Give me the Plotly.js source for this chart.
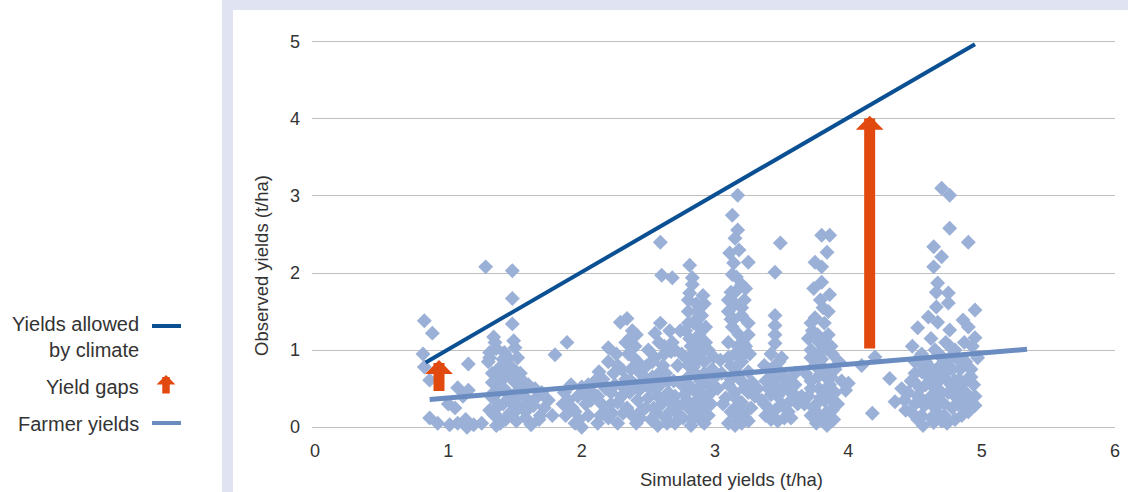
<!DOCTYPE html>
<html>
<head>
<meta charset="utf-8">
<script src="https://cdn.plot.ly/plotly-3.0.1.min.js"></script>
<style>html,body{margin:0;padding:0;background:#fff;}#chart{width:1128px;height:492px;}</style>
</head>
<body>
<div id="chart"></div>
<script>
// ---------- data ----------
var xTicks = [0, 1, 2, 3, 4, 5, 6];
var yTicks = [0, 1, 2, 3, 4, 5];
var xTitle = "Simulated yields (t/ha)";
var yTitle = "Observed yields (t/ha)";
var legendLabels = ["Yields allowed<br>by climate", "Yield gaps", "Farmer yields"];

// observed vs simulated points, grouped by cluster
var c1x = [0.82,0.88,0.81,0.82,0.86,0.86,0.92,1.01,1.05,1.07,1.15,1.11,1.15,1.14,1.25,1.19,1.00,1.13,1.07];
var c1y = [1.38,1.22,0.95,0.78,0.61,0.12,0.05,0.03,0.25,0.51,0.48,0.40,0.82,0.00,0.05,0.03,0.30,0.10,0.05];
var c2x = [1.28,1.48,1.48,1.48,1.34,1.35,1.31,1.42,1.50,1.52,1.48,1.35,1.42,1.33,1.50,1.54,1.37,1.45,1.33,1.50,1.55,1.50,1.58,1.62,1.58,1.62,1.66,1.72,1.78,1.80,1.30,1.40,1.45,1.38,1.43,1.36,1.68,1.70,1.75,1.60,1.65,1.34,1.39,
           1.31,1.36,1.41,1.46,1.51,1.33,1.38,1.43,1.48,1.53,1.31,1.36,1.41,1.46,1.51,1.56,1.34,1.39,1.44,1.49,1.54,1.59,1.64,1.69];
var c2y = [2.08,2.03,1.67,1.34,1.17,1.10,0.97,0.97,1.03,0.90,0.77,0.71,0.64,0.58,0.58,0.52,0.45,0.42,0.38,0.32,0.25,0.20,0.12,0.03,0.38,0.32,0.38,0.25,0.15,0.94,0.85,0.80,0.90,0.28,0.10,0.02,0.10,0.45,0.35,0.55,0.50,0.16,0.05,
           0.90,1.02,0.88,0.66,0.45,0.70,0.55,0.48,0.30,0.42,0.22,0.15,0.30,0.18,0.08,0.60,0.45,0.65,0.78,1.12,0.70,0.22,0.28,0.15];
var c3x = [1.89,1.87,1.90,1.93,1.88,1.95,1.97,2.00,2.03,2.05,2.08,2.10,2.12,1.92,2.00,2.15,2.18,2.13,
           1.86,1.95,2.02,2.07,2.12,2.17,1.98,2.05,2.14];
var c3y = [1.10,0.45,0.35,0.25,0.15,0.05,0.40,0.52,0.30,0.15,0.45,0.60,0.05,0.55,0.00,0.30,0.50,0.72,
           0.30,0.20,0.42,0.35,0.40,0.20,0.10,0.55,0.15];
var c4x = [2.20,2.27,2.29,2.34,2.38,2.36,2.40,2.35,2.42,2.37,2.33,2.40,2.36,2.42,2.34,2.38,2.41,2.30,2.25,2.22,2.20,2.27,2.45,2.47,2.24,2.31,2.16,2.44,
           2.22,2.27,2.32,2.37,2.43,2.23,2.30,2.39,2.44,2.26,2.33,2.41,2.20];
var c4y = [1.03,0.80,1.36,1.41,1.25,1.15,1.05,0.95,0.85,0.75,0.62,0.55,0.45,0.35,0.25,0.15,0.05,0.40,0.55,0.30,0.12,0.05,0.22,0.65,0.70,0.18,0.62,0.12,
           0.45,0.32,0.50,0.60,0.48,0.18,0.75,0.90,0.70,0.95,1.10,1.20,0.85];
var c5x = [2.59,2.60,2.68,2.59,2.55,2.50,2.53,2.58,2.62,2.65,2.55,2.50,2.60,2.66,2.52,2.57,2.70,2.72,2.68,2.74,2.63,2.48,2.70,2.75,2.46,2.56,2.65,2.72,
           2.49,2.53,2.57,2.61,2.65,2.69,2.73,2.51,2.55,2.59,2.63,2.67,2.71,2.75,2.54,2.62,2.70,2.66,2.58,2.64];
var c5y = [2.40,1.97,1.94,1.35,1.22,1.00,0.85,0.70,0.95,0.60,0.50,0.38,0.30,0.20,0.10,0.02,0.40,0.80,1.10,1.25,0.12,0.25,0.05,0.55,0.60,0.18,0.45,0.25,
           0.80,0.65,0.40,0.80,0.35,0.60,0.15,0.50,0.90,0.55,0.70,0.98,0.30,0.95,0.25,1.05,1.00,1.25,1.10,0.05];
var c6x = [2.81,2.83,2.81,2.91,2.86,2.80,2.90,2.84,2.78,2.88,2.93,2.82,2.87,2.78,2.92,2.84,2.99,3.04,2.80,2.89,2.95,2.83,2.77,2.88,2.93,2.80,2.85,2.90,2.82,2.95,2.97,2.76,2.87,2.93,2.81,2.85,2.90,2.79,3.00,2.95,
           2.80,2.86,2.92,2.80,2.86,2.92,2.80,2.86,2.92,2.80,2.86,2.92,2.80,2.86,2.92,2.83,2.89,2.83,2.89,2.83,2.89,2.97,3.02,2.98];
var c6y = [2.10,1.94,1.74,1.71,1.60,1.50,1.45,1.35,1.25,1.20,1.10,1.05,0.95,0.90,0.85,0.78,0.91,0.87,0.65,0.60,0.55,0.50,0.42,0.38,0.30,0.25,0.15,0.08,0.02,0.15,0.45,0.12,1.50,1.30,1.15,0.70,0.20,0.35,0.65,1.00,
           1.65,1.40,1.60,1.35,1.05,1.00,0.80,0.85,0.70,0.55,0.45,0.40,0.30,0.28,0.05,1.85,1.28,0.95,0.65,0.10,0.52,0.30,0.50,0.75];
var c7x = [3.17,3.13,3.17,3.15,3.11,3.25,3.14,3.16,3.20,3.12,3.22,3.15,3.10,3.20,3.25,3.13,3.18,3.10,3.23,3.15,3.20,3.12,3.25,3.17,3.10,3.22,3.15,3.08,3.20,3.27,3.12,3.18,3.15,3.23,3.06,3.30,3.05,3.28,3.10,3.26,3.14,3.21,
           3.10,3.15,3.20,3.25,3.12,3.17,3.22,3.10,3.15,3.20,3.25,3.12,3.17,3.22,3.10,3.15,3.20,3.25,3.13,3.18,3.23,3.16];
var c7y = [3.01,2.75,2.56,2.45,2.26,2.14,2.13,1.95,1.85,1.75,1.65,1.60,1.50,1.45,1.35,1.30,1.20,1.10,1.05,0.95,0.85,0.80,0.72,0.65,0.55,0.50,0.45,0.38,0.32,0.25,0.20,0.10,0.02,0.12,0.30,0.40,0.70,0.58,0.90,0.95,1.40,1.10,
           1.65,1.75,1.55,1.20,1.40,1.05,0.95,0.90,0.75,0.60,0.45,0.62,0.35,0.20,0.05,0.25,0.05,0.08,1.98,2.30,1.80,0.15];
var c8x = [3.49,3.45,3.45,3.45,3.45,3.45,3.42,3.48,3.40,3.50,3.38,3.45,3.52,3.42,3.35,3.50,3.45,3.38,3.55,3.47,3.58,3.60,3.32,3.55,3.62,3.40,
           3.37,3.42,3.47,3.52,3.57,3.37,3.42,3.47,3.52,3.57,3.40,3.50,3.45,3.55,3.60,3.65];
var c8y = [2.39,2.01,1.45,1.32,1.20,1.09,0.95,0.85,0.75,0.70,0.60,0.55,0.50,0.42,0.35,0.30,0.22,0.15,0.20,0.08,0.45,0.70,0.50,0.60,0.30,0.25,
           0.80,0.65,0.40,0.62,0.35,0.30,0.10,0.68,0.12,0.12,0.50,0.90,0.80,0.48,0.55,0.40];
var c9x = [3.80,3.86,3.84,3.75,3.80,3.80,3.74,3.79,3.85,3.75,3.82,3.73,3.85,3.78,3.72,3.88,3.80,3.75,3.90,3.83,3.72,3.78,3.90,3.70,3.82,3.75,3.88,3.72,3.80,3.84,3.67,3.68,3.93,3.77,3.86,3.95,3.70,3.83,
           3.72,3.77,3.82,3.87,3.72,3.77,3.82,3.87,3.72,3.77,3.82,3.87,3.74,3.79,3.84,3.89,3.76,3.81,3.86,3.92];
var c9y = [2.49,2.49,2.27,2.14,2.08,1.88,1.80,1.65,1.50,1.42,1.35,1.25,1.20,1.10,1.00,0.95,0.88,0.80,0.75,0.65,0.60,0.50,0.45,0.40,0.35,0.28,0.22,0.15,0.10,0.02,0.30,0.70,0.85,0.18,0.55,0.60,1.15,1.02,
           1.35,1.20,1.15,1.05,0.90,0.95,0.75,0.65,0.50,0.65,0.45,0.35,0.25,0.38,0.20,0.10,0.05,1.55,1.72,0.30];
var c10x = [4.00,3.98,4.10,4.18,4.20];
var c10y = [0.57,0.48,0.80,0.18,0.91];
var c11x = [4.70,4.76,4.76,4.90,4.64,4.70,4.64,4.67,4.66,4.75,4.75,4.66,4.95,4.60,4.67,4.86,4.52,4.76,4.90,4.95,4.73,
            4.31,4.35,4.43,4.64,4.45,4.50,4.55,4.58,4.62,4.60,4.55,4.50,4.48,4.65,4.68,4.70,4.72,4.75,4.78,4.80,4.82,4.85,4.88,4.90,4.92,4.95,4.97,4.52,4.58,4.62,4.68,4.72,4.80,4.85,4.93,4.40,4.47,4.56,4.66,4.74,4.87,4.83,4.60,4.78,4.95,4.42,4.53,
            4.47,4.52,4.57,4.62,4.67,4.72,4.77,4.82,4.87,4.92,4.49,4.54,4.59,4.64,4.69,4.74,4.79,4.84,4.89,4.94,4.50,4.56,4.62,4.68,4.74,4.80,4.86,4.92,4.55,4.65,4.70,4.76,4.82,4.88,4.60,4.70,4.80];
var c11y = [3.10,3.01,2.58,2.40,2.34,2.21,2.08,1.87,1.75,1.74,1.61,1.56,1.52,1.43,1.36,1.39,1.29,1.26,1.30,1.16,1.10,
            0.63,0.33,0.22,0.06,0.45,0.30,0.15,0.55,0.40,0.80,0.95,0.70,1.05,0.25,0.60,0.90,0.15,0.45,0.75,1.00,0.30,0.55,0.85,0.20,0.65,0.40,0.90,0.10,0.85,1.15,0.35,0.70,0.10,0.15,1.05,0.50,0.60,0.02,0.50,0.05,1.10,0.62,0.65,0.25,0.28,0.35,0.85,
            0.20,0.40,0.28,0.55,0.18,0.30,0.55,0.45,0.35,0.75,0.60,0.50,0.70,0.72,0.80,0.62,0.95,0.75,0.62,0.55,0.85,0.35,0.12,0.95,0.85,0.40,0.25,0.30,0.72,1.00,0.08,1.05,0.88,0.45,0.35,0.45,0.60];

// trend lines
var climateX = [0.83, 4.95];
var climateY = [0.84, 4.97];
var farmerX = [0.86, 5.34];
var farmerY = [0.36, 1.01];

// yield gap arrows
var gapX = [0.93, 4.16];
var gapFrom = [0.45, 1.00];
var gapTo = [0.87, 4.04];

// ---------- build ----------
var allX = [].concat(c1x,c2x,c3x,c4x,c5x,c6x,c7x,c8x,c9x,c10x,c11x);
var allY = [].concat(c1y,c2y,c3y,c4y,c5y,c6y,c7y,c8y,c9y,c10y,c11y);

var W = 1128, H = 492;
var M = {l: 312, r: 13, t: 38, b: 61};
var pw = W - M.l - M.r, ph = H - M.t - M.b;
function px(x) { return (x - M.l) / pw; }
function py(y) { return (H - M.b - y) / ph; }

var FONT = "Liberation Sans, Arial, sans-serif";
var TXT = "#333333";
var DARK = "#0b5092";
var LIGHT = "#6b8cc0";
var PTS = "#9bb0d7";
var ORANGE = "#e2490f";

var traces = [
  {type: "scatter", mode: "markers", x: allX, y: allY, cliponaxis: false, hoverinfo: "x+y",
   marker: {symbol: "diamond", size: 11.5, color: PTS, line: {width: 0}}},
  {type: "scatter", mode: "lines", x: farmerX, y: farmerY, line: {color: LIGHT, width: 5}, cliponaxis: false},
  {type: "scatter", mode: "lines", x: climateX, y: climateY, line: {color: DARK, width: 4}, cliponaxis: false}
];

var annotations = [];
for (var i = 0; i < gapX.length; i++) {
  annotations.push({xref: "x", yref: "y", axref: "x", ayref: "y",
    x: gapX[i], y: gapTo[i], ax: gapX[i], ay: gapFrom[i], text: "",
    showarrow: true, arrowhead: 1, arrowwidth: 11, arrowsize: 0.42, arrowcolor: ORANGE, standoff: 0});
}
// axis titles
annotations.push({xref: "paper", yref: "paper", x: px(731), y: py(479), text: xTitle, showarrow: false,
  xanchor: "center", yanchor: "middle", font: {family: FONT, size: 18.5, color: TXT}});
annotations.push({xref: "paper", yref: "paper", x: px(261), y: py(266), text: yTitle, showarrow: false,
  textangle: -90, xanchor: "center", yanchor: "middle", font: {family: FONT, size: 18.5, color: TXT}});
// legend texts
var legY = [337, 387, 424];
for (var j = 0; j < legendLabels.length; j++) {
  annotations.push({xref: "paper", yref: "paper", x: px(141), y: py(legY[j]), text: legendLabels[j],
    showarrow: false, xanchor: "right", yanchor: "middle", align: "right",
    font: {family: FONT, size: 20, color: TXT}});
}
// legend arrow
annotations.push({xref: "paper", yref: "paper", x: px(166), y: py(375), ax: 0, ay: 20, text: "",
  showarrow: true, arrowhead: 1, arrowwidth: 7.5, arrowsize: 0.42, arrowcolor: ORANGE, standoff: 0});

var shapes = [
  {type: "rect", xref: "paper", yref: "paper", x0: px(222), x1: px(1128), y0: py(0), y1: py(492),
   fillcolor: "#e0e4f2", line: {width: 0}, layer: "below"},
  {type: "rect", xref: "paper", yref: "paper", x0: px(233), x1: px(1128), y0: py(10), y1: py(492),
   fillcolor: "#ffffff", line: {width: 0}, layer: "below"},
  {type: "line", xref: "paper", yref: "paper", x0: px(152), x1: px(181), y0: py(326), y1: py(326),
   line: {color: DARK, width: 4}},
  {type: "line", xref: "paper", yref: "paper", x0: px(152), x1: px(181), y0: py(423), y1: py(423),
   line: {color: LIGHT, width: 4}}
];

var layout = {
  width: W, height: H, margin: M,
  paper_bgcolor: "#ffffff", plot_bgcolor: "rgba(0,0,0,0)",
  showlegend: false,
  font: {family: FONT, size: 18, color: TXT},
  xaxis: {range: [-0.0225, 6], tickvals: xTicks, ticktext: xTicks.map(String), showgrid: false,
    zeroline: false, showline: false, ticks: "", ticklabelstandoff: 7,
    tickfont: {family: FONT, size: 18, color: TXT}, fixedrange: true},
  yaxis: {range: [-0.05, 5.05], tickvals: yTicks, ticktext: yTicks.map(String), showgrid: true,
    gridcolor: "#bfbfbf", gridwidth: 1, zeroline: false, showline: false, ticks: "",
    ticklabelstandoff: 11, tickfont: {family: FONT, size: 18, color: TXT}, fixedrange: true},
  annotations: annotations,
  shapes: shapes
};

Plotly.newPlot("chart", traces, layout, {displayModeBar: false, staticPlot: true});
</script>
</body>
</html>
